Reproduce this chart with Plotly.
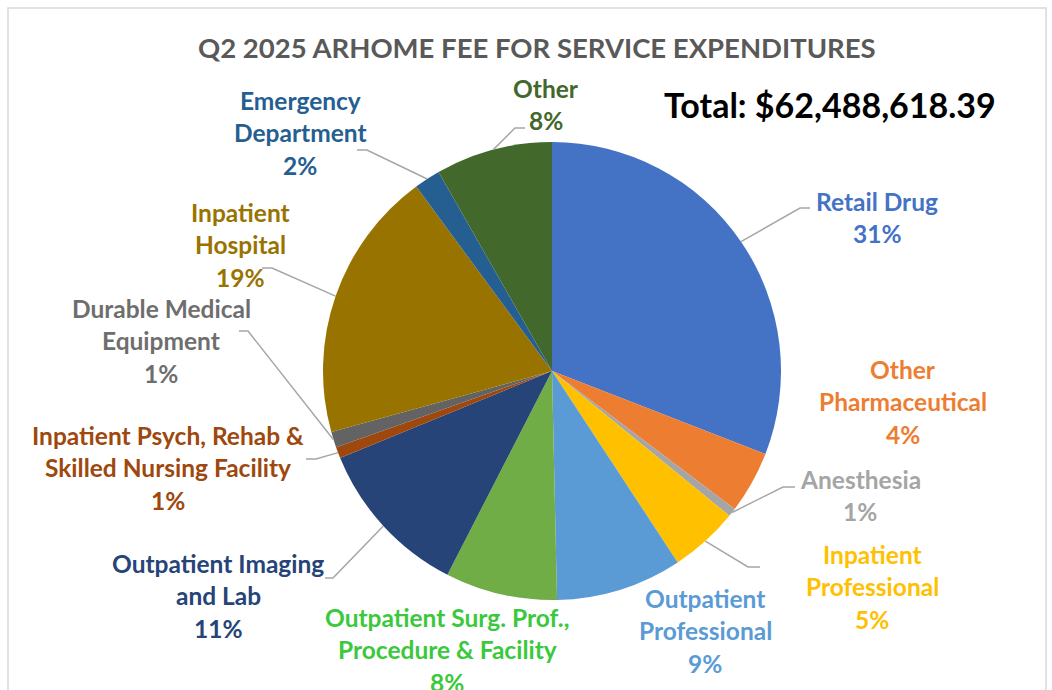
import math
import plotly.graph_objects as go

W, H = 1052, 690

# data: share of total spend (%), clockwise from 12 o'clock
categories = [
    "Retail Drug", "Other Pharmaceutical", "Anesthesia", "Inpatient Professional",
    "Outpatient Professional", "Outpatient Surg. Prof., Procedure & Facility",
    "Outpatient Imaging and Lab", "Inpatient Psych, Rehab & Skilled Nursing Facility",
    "Durable Medical Equipment", "Inpatient Hospital", "Emergency Department", "Other",
]
shares = [30.9, 4.4, 0.6, 4.85, 8.9, 7.9, 11.25, 0.8, 1.1, 19.2, 1.85, 8.25]
label_lines = [
    ["Retail Drug"], ["Other", "Pharmaceutical"], ["Anesthesia"], ["Inpatient", "Professional"],
    ["Outpatient", "Professional"], ["Outpatient Surg. Prof.,", "Procedure & Facility"],
    ["Outpatient Imaging", "and Lab"], ["Inpatient Psych, Rehab &", "Skilled Nursing Facility"],
    ["Durable Medical", "Equipment"], ["Inpatient", "Hospital"], ["Emergency", "Department"], ["Other"],
]
total_text = "Total: $62,488,618.39"
title_text = "Q2 2025 ARHOME FEE FOR SERVICE EXPENDITURES"

slice_colors = ["#4472C4", "#ED7D31", "#A5A5A5", "#FFC000", "#5B9BD5", "#70AD47",
                "#264478", "#9E480E", "#636363", "#997300", "#255E91", "#43682B"]
text_colors = ["#4472C4", "#ED7D31", "#A5A5A5", "#FFC000", "#5B9BD5", "#3CC83C",
               "#264478", "#9E480E", "#6E6E6E", "#997300", "#255E91", "#43682B"]

# label placement (pixels): centre x, first line y, leader elbow and end (or None)
label_pos = [
    (877, 201, (800, 208), (810, 208)),
    (903, 369, None, None),
    (860, 479, (783, 487), (795, 487)),
    (872, 554, (748, 567), (760, 567)),
    (705, 598, None, None),
    (447, 617, None, None),
    (218, 563, (333, 578), (325, 578)),
    (168, 435, (316, 459), (306, 459)),
    (161, 308, (248, 331), (239, 331)),
    (240, 212, (272, 268), (262, 268)),
    (300, 100, (367, 150), (357, 150)),
    (546, 88, (515, 128), (525, 128)),
]
LINE_H = 32.5

cx, cy, r = 552, 371, 229

fig = go.Figure()
fig.add_trace(go.Pie(
    labels=categories, values=shares, sort=False, direction="clockwise", rotation=0,
    marker=dict(colors=slice_colors, line=dict(width=0)),
    textinfo="none", hoverinfo="label+percent", showlegend=False,
    domain=dict(x=[(cx - r) / W, (cx + r) / W], y=[1 - (cy + r) / H, 1 - (cy - r) / H]),
))

annotations = []
shapes = [dict(type="rect", xref="x", yref="y", x0=8, y0=8, x1=1046, y1=720,
               line=dict(color="#D9D9D9", width=1.5), fillcolor="rgba(0,0,0,0)")]

tot = sum(shares)
cum = 0
for i, v in enumerate(shares):
    mid = (cum + v / 2) / tot * 2 * math.pi
    cum += v
    lx, ly, elbow, end = label_pos[i]
    lines = label_lines[i] + [f"{v / tot * 100:.0f}%"]
    for k, t in enumerate(lines):
        annotations.append(dict(x=lx, y=ly + k * LINE_H, xref="x", yref="y", text=f"<b>{t}</b>",
                                showarrow=False, xanchor="center", yanchor="middle",
                                font=dict(family="Lato", size=24.5, color=text_colors[i])))
    if elbow:
        ex, ey = cx + r * math.sin(mid), cy - r * math.cos(mid)
        shapes.append(dict(type="path", xref="x", yref="y",
                           path=f"M{ex},{ey} L{elbow[0]},{elbow[1]} L{end[0]},{end[1]}",
                           line=dict(color="#A6A6A6", width=1.5)))

annotations.append(dict(x=537, y=47, xref="x", yref="y", text=f"<b>{title_text}</b>",
                        showarrow=False, xanchor="center", yanchor="middle",
                        font=dict(family="Lato", size=27.5, color="#595959")))
annotations.append(dict(x=830, y=104, xref="x", yref="y", text=f"<b>{total_text}</b>",
                        showarrow=False, xanchor="center", yanchor="middle",
                        font=dict(family="Lato", size=34, color="#000000")))

fig.update_layout(
    width=W, height=H, margin=dict(l=0, r=0, t=0, b=0),
    paper_bgcolor="white", plot_bgcolor="rgba(0,0,0,0)",
    xaxis=dict(range=[0, W], visible=False, fixedrange=True),
    yaxis=dict(range=[H, 0], visible=False, fixedrange=True),
    annotations=annotations, shapes=shapes,
)

# page body has a default 8px margin; drop it so pixels line up with the window
fig.write_html("out.html", config={"displayModeBar": False},
               post_script="document.body.style.margin='0';")
